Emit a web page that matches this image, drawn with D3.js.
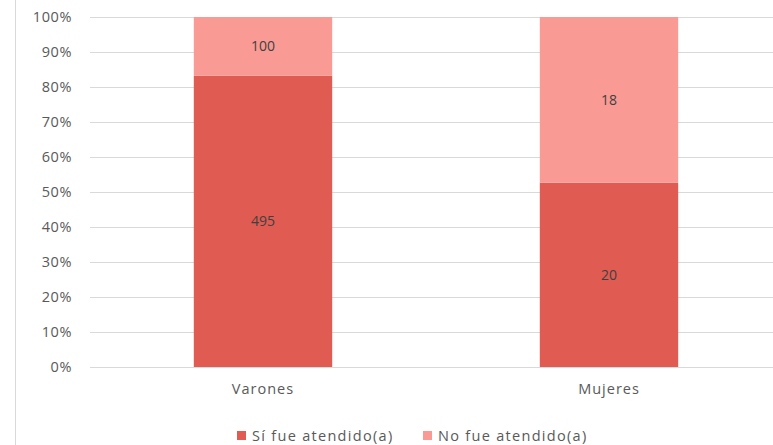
<!DOCTYPE html>
<html>
<head>
<meta charset="utf-8">
<script src="https://cdn.jsdelivr.net/npm/d3@7"></script>
<style>
  html, body { margin: 0; padding: 0; background: #fff; }
  svg { display: block; font-family: "Open Sans", "DejaVu Sans", sans-serif; }
</style>
</head>
<body>
<svg id="chart" width="773" height="445"></svg>
<script>
// Attention by sex: counts per group
const categories = ["Varones", "Mujeres"];
const seriesNames = ["Sí fue atendido(a)", "No fue atendido(a)"];
const atendido = [495, 20];
const noAtendido = [100, 18];
const yTicks = [0, 0.1, 0.2, 0.3, 0.4, 0.5, 0.6, 0.7, 0.8, 0.9, 1.0];
const colors = ["#E05C52", "#F99B94"];

const FONT = "Open Sans, sans-serif";
const svg = d3.select("#chart");
const W = 773, H = 445;
const plot = { left: 90, right: 782, top: 17, bottom: 367 };

const x = d3.scaleBand().domain(categories).range([plot.left, plot.right]).paddingInner(0.6).paddingOuter(0.3);
const y = d3.scaleLinear().domain([0, 1]).range([plot.bottom, plot.top]);

// frame line on the left
svg.append("line").attr("x1", 15.5).attr("x2", 15.5).attr("y1", 0).attr("y2", H)
  .attr("stroke", "#d9d9d9").attr("stroke-width", 1);

// gridlines
svg.append("g").selectAll("line").data(yTicks).join("line")
  .attr("x1", plot.left).attr("x2", W)
  .attr("y1", d => Math.round(y(d)) + 0.5).attr("y2", d => Math.round(y(d)) + 0.5)
  .attr("stroke", "#d9d9d9").attr("stroke-width", 1);

// y axis labels
const yAxis = d3.axisLeft(y).tickValues(yTicks).tickFormat(d3.format(".0%")).tickSize(0).tickPadding(0);
const ya = svg.append("g").attr("transform", `translate(${72},0)`).call(yAxis);
ya.select(".domain").remove();
ya.selectAll("text").attr("fill", "#595959").attr("font-size", 14.5).attr("font-family", FONT)
  .attr("letter-spacing", 0.6);

// stacked percentages
const rows = categories.map((c, i) => {
  const tot = atendido[i] + noAtendido[i];
  return { cat: c, vals: [atendido[i], noAtendido[i]], tot };
});

rows.forEach(r => {
  let acc = 0;
  r.vals.forEach((v, k) => {
    const y0 = acc / r.tot, y1 = (acc + v) / r.tot;
    acc += v;
    svg.append("rect")
      .attr("x", x(r.cat)).attr("width", x.bandwidth())
      .attr("y", y(y1)).attr("height", y(y0) - y(y1))
      .attr("fill", colors[k]);
    svg.append("text")
      .attr("x", x(r.cat) + x.bandwidth() / 2)
      .attr("y", (y(y0) + y(y1)) / 2)
      .attr("dy", "0.35em")
      .attr("text-anchor", "middle")
      .attr("fill", "#404040").attr("font-size", 14).attr("font-family", FONT)
      .text(v);
  });
});

// category axis labels
const xAxis = d3.axisBottom(x).tickSize(0).tickPadding(0);
const xa = svg.append("g").attr("transform", `translate(0,${plot.bottom + 17})`).call(xAxis);
xa.select(".domain").remove();
xa.selectAll("text").attr("fill", "#595959").attr("font-size", 14.5).attr("font-family", FONT)
  .attr("letter-spacing", 1);

// legend
const legendX = [237, 423];
const lg = svg.append("g");
seriesNames.forEach((s, k) => {
  lg.append("rect").attr("x", legendX[k]).attr("y", 431).attr("width", 9).attr("height", 9).attr("fill", colors[k]);
  lg.append("text").attr("x", legendX[k] + 15).attr("y", 436).attr("dy", "0.35em")
    .attr("fill", "#595959").attr("font-size", 14.5).attr("font-family", FONT)
    .attr("letter-spacing", 1.3).text(s);
});
</script>
</body>
</html>
